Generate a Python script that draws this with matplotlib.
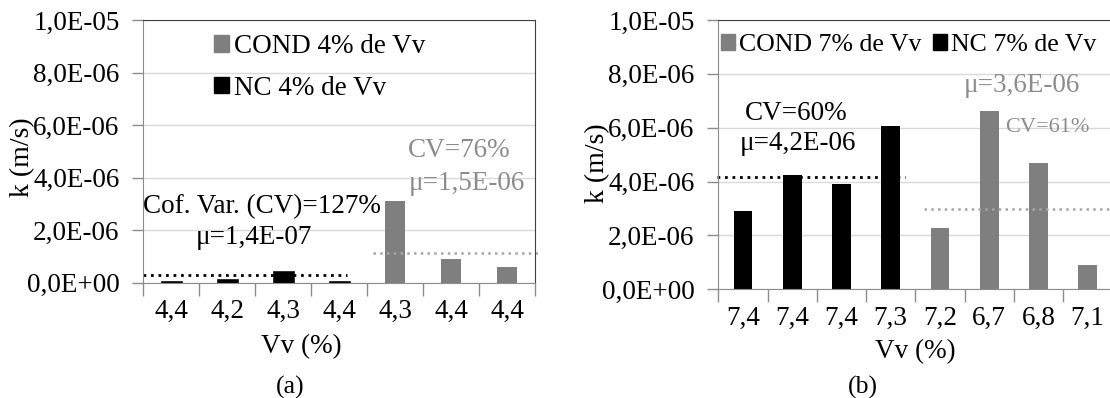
import matplotlib
matplotlib.use("Agg")
import matplotlib.pyplot as plt
from matplotlib.patches import Patch
from matplotlib.ticker import FuncFormatter, FixedLocator
import numpy as np

plt.rcParams['font.family'] = ['Liberation Serif', 'DejaVu Serif']

# ---------------- data ----------------
left_vv = ['4,4', '4,2', '4,3', '4,4', '4,3', '4,4', '4,4']
left_nc = [6.5e-8, 1.5e-7, 4.3e-7, 6.5e-8]
left_cond = [3.10e-6, 0.91e-6, 0.59e-6]
left_nc_mean_line = 2.8e-7
left_cond_mean_line = 1.12e-6

right_vv = ['7,4', '7,4', '7,4', '7,3', '7,2', '6,7', '6,8', '7,1']
right_nc = [2.91e-6, 4.26e-6, 3.90e-6, 6.08e-6]
right_cond = [2.28e-6, 6.62e-6, 4.69e-6, 0.89e-6]
right_nc_mean_line = 4.17e-6
right_cond_mean_line = 2.98e-6

W, H = 1110, 398
fig = plt.figure(figsize=(W / 100, H / 100), dpi=100)

def fx(x):
    return x / W

def fy(y):
    return 1 - y / H

GRAY = '#7f7f7f'
TXTGRAY = '#8c8c8c'
LINEGRAY = '#a6a6a6'
FS = 19.5

def fmt(v, pos):
    return f"{v:.1E}".replace('.', ',')

def setup(ax, labels):
    n = len(labels)
    ax.set_xlim(-0.5, n - 0.5)
    ax.set_ylim(0, 1.0e-5)
    ax.set_yticks(np.arange(0, 1.0e-5 + 1e-12, 2e-6))
    ax.yaxis.set_major_formatter(FuncFormatter(fmt))
    ax.grid(axis='y', color='#d9d9d9', lw=1)
    ax.set_axisbelow(True)
    ax.xaxis.set_major_locator(FixedLocator(np.arange(n + 1) - 0.5))
    ax.xaxis.set_minor_locator(FixedLocator(np.arange(n)))
    ax.set_xticklabels([])
    ax.set_xticklabels(labels, minor=True)
    ax.tick_params(axis='x', which='major', length=9, width=1, color='#8c8c8c', direction='out')
    ax.tick_params(axis='x', which='minor', length=0, pad=12, labelsize=FS)
    ax.tick_params(axis='y', length=8, width=1, color='#8c8c8c', pad=9, labelsize=FS)
    for s in ['left', 'bottom']:
        ax.spines[s].set_color('#8c8c8c')
    for s in ['top', 'right']:
        ax.spines[s].set_color('#404040')

# ---------------- left panel ----------------
axL = fig.add_axes([fx(143.3), fy(282.7), fx(535 - 143.3), (282.7 - 20) / H])
setup(axL, left_vv)
nL = len(left_nc)
axL.bar(np.arange(nL), left_nc, width=0.37, color='black', edgecolor='#222222', lw=0.6)
axL.bar(np.arange(nL, nL + len(left_cond)), left_cond, width=0.37, color=GRAY)
axL.plot([-0.5, 3.14], [left_nc_mean_line] * 2, color='black', lw=2.0,
         linestyle=(0, (1, 1.7)), clip_on=False)
axL.plot([3.6, 6.6], [left_cond_mean_line] * 2, color=LINEGRAY, lw=1.8,
         linestyle=(0, (1, 1.7)), clip_on=False)

axL.legend(handles=[Patch(color=GRAY), Patch(color='black')],
           labels=['COND 4% de Vv', 'NC 4% de Vv'],
           loc='upper left', bbox_to_anchor=(fx(214), fy(34)), bbox_transform=fig.transFigure,
           frameon=False, fontsize=FS, handlelength=0.55, handleheight=0.55,
           handletextpad=0.2, labelspacing=0.62, borderpad=0, borderaxespad=0)

fig.text(fx(143.3), fy(207), 'Cof. Var. (CV)=127%', fontsize=FS, ha='left', va='center')
fig.text(fx(254), fy(237), 'μ=1,4E-07', fontsize=FS, ha='center', va='center')
fig.text(fx(459), fy(151), 'CV=76%', fontsize=FS, ha='center', va='center', color=TXTGRAY)
fig.text(fx(467), fy(183), 'μ=1,5E-06', fontsize=FS, ha='center', va='center', color=TXTGRAY)

fig.text(fx(23), fy(157), 'k (m/s)', fontsize=20, rotation=90, ha='center', va='center')
fig.text(fx(301), fy(347), 'Vv (%)', fontsize=19.5, ha='center', va='center')
fig.text(fx(290), fy(387), '(a)', fontsize=18.5, ha='center', va='center')

# ---------------- right panel ----------------
axR = fig.add_axes([fx(718.3), fy(289.3), fx(1112.3 - 718.3), (289.3 - 20) / H])
setup(axR, right_vv)
nR = len(right_nc)
axR.bar(np.arange(nR), right_nc, width=0.38, color='black')
axR.bar(np.arange(nR, nR + len(right_cond)), right_cond, width=0.38, color=GRAY)
axR.plot([-0.53, 3.29], [right_nc_mean_line] * 2, color='black', lw=2.0,
         linestyle=(0, (1, 1.7)), clip_on=False)
axR.plot([3.68, 7.6], [right_cond_mean_line] * 2, color=LINEGRAY, lw=1.8,
         linestyle=(0, (1, 1.7)), clip_on=False)

axR.legend(handles=[Patch(color=GRAY), Patch(color='black')],
           labels=['COND 7% de Vv', 'NC 7% de Vv'], ncol=2,
           loc='upper left', bbox_to_anchor=(fx(721), fy(34)), bbox_transform=fig.transFigure,
           frameon=False, fontsize=18.6, handlelength=0.55, handleheight=0.55,
           handletextpad=0.15, columnspacing=0.45, borderpad=0, borderaxespad=0)

fig.text(fx(796), fy(113), 'CV=60%', fontsize=FS, ha='center', va='center')
fig.text(fx(798), fy(144), 'μ=4,2E-06', fontsize=FS, ha='center', va='center')
fig.text(fx(1021.7), fy(86), 'μ=3,6E-06', fontsize=FS, ha='center', va='center', color=TXTGRAY)
fig.text(fx(1047.5), fy(127), 'CV=61%', fontsize=16, ha='center', va='center', color=TXTGRAY)

fig.text(fx(598), fy(163), 'k (m/s)', fontsize=20, rotation=90, ha='center', va='center')
fig.text(fx(915), fy(352), 'Vv (%)', fontsize=19.5, ha='center', va='center')
fig.text(fx(863), fy(387), '(b)', fontsize=18.5, ha='center', va='center')

fig.savefig('out.png', dpi=100)
